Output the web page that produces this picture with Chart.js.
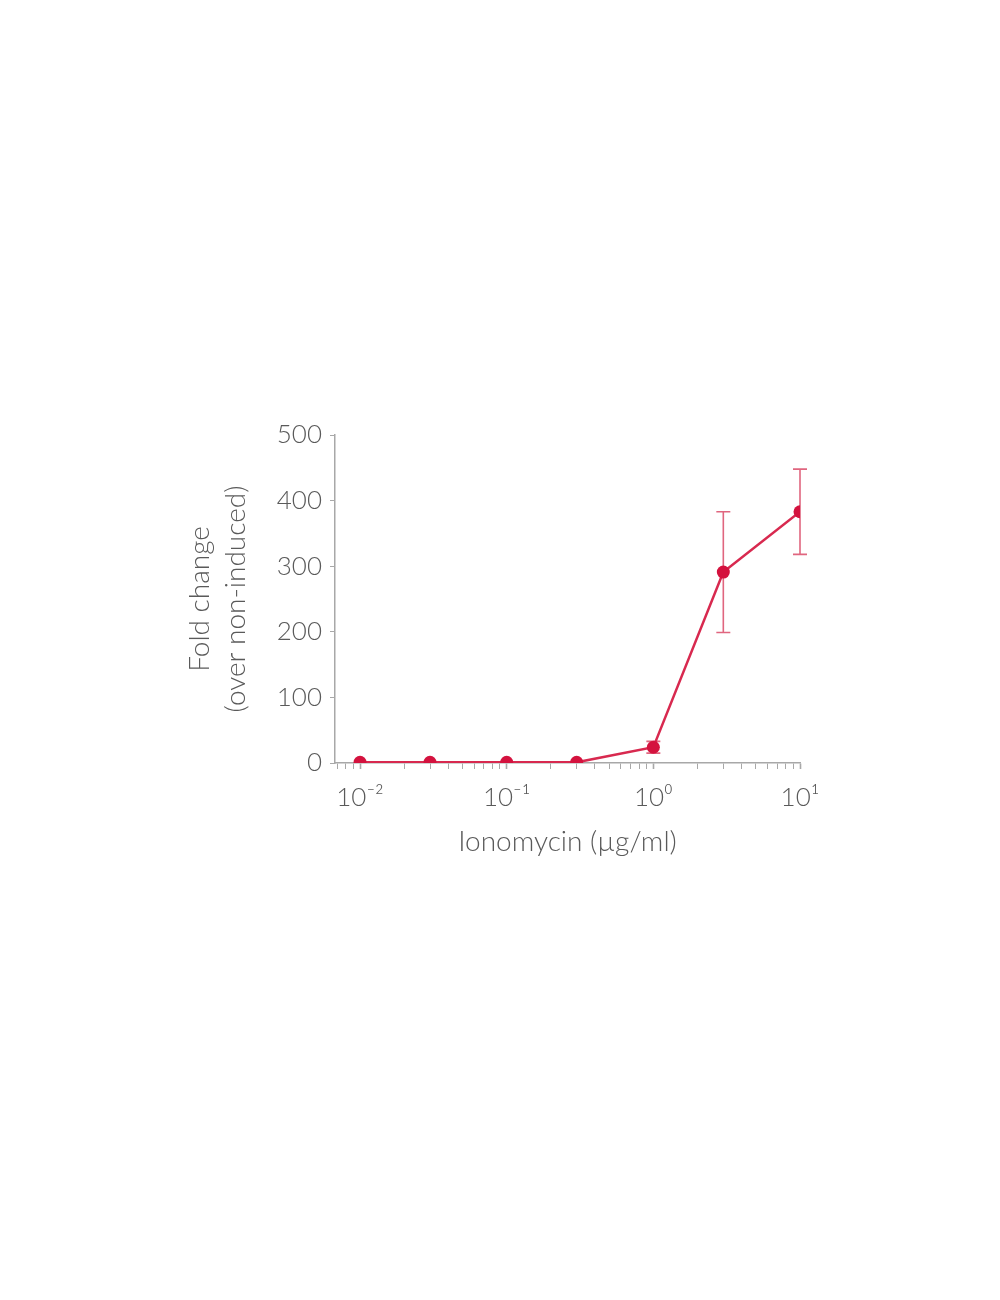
<!DOCTYPE html>
<html>
<head>
<meta charset="utf-8">
<script src="https://cdn.jsdelivr.net/npm/chart.js@4.4.1/dist/chart.umd.min.js"></script>
<style>
  html, body { margin: 0; padding: 0; background: #fff; }
  #wrap { position: relative; width: 1000px; height: 1300px; }
</style>
</head>
<body>
<div id="wrap"><canvas id="doseChart"></canvas></div>
<script>
// ionomycin dose (ug/ml) vs fold change
const doses = [0.01, 0.03, 0.1, 0.3, 1, 3, 10];
const foldChange = [1, 1, 1, 1, 24, 291, 383];
const foldSd = [0, 0, 0, 0, 9, 92, 65];

const decadeTicks = [0.01, 0.1, 1, 10];
const decadeLabels = ["10\u207B\u00B2", "10\u207B\u00B9", "10\u2070", "10\u00B9"];
const yTicks = [0, 100, 200, 300, 400, 500];

const xMin = 0.00675;
const xMax = 10;

const gray = "#5a5a5a";
const axisGray = "#a8a8a8";
const red = "#d4123e";

// minor ticks 2..9 of each decade, plus the decades themselves
const xTickValues = [];
[0.001, 0.01, 0.1, 1].forEach(d => {
    for (let k = 1; k <= 9; k++) {
        const v = +(d * k).toPrecision(3);
        if (v >= xMin && v <= xMax) xTickValues.push(v);
    }
});
xTickValues.push(10);

const errorBars = {
    id: "errorBars",
    beforeDatasetsDraw(chart) {
        const ctx = chart.ctx;
        const xs = chart.scales.x, ys = chart.scales.y;
        ctx.save();
        ctx.strokeStyle = "#e0667f";
        ctx.lineWidth = 1.6;
        doses.forEach((d, i) => {
            if (!foldSd[i]) return;
            const px = xs.getPixelForValue(d);
            const top = ys.getPixelForValue(foldChange[i] + foldSd[i]);
            const bot = ys.getPixelForValue(foldChange[i] - foldSd[i]);
            ctx.beginPath();
            ctx.moveTo(px, top); ctx.lineTo(px, bot);
            ctx.moveTo(px - 7, top); ctx.lineTo(px + 7, top);
            ctx.moveTo(px - 7, bot); ctx.lineTo(px + 7, bot);
            ctx.stroke();
        });
        ctx.restore();
    }
};

const tickFont = { family: "Lato", weight: "300", size: 26 };
const titleFont = { family: "Lato", weight: "300", size: 28, lineHeight: 1.32 };

new Chart(document.getElementById("doseChart"), {
    type: "line",
    data: {
        datasets: [{
            data: doses.map((d, i) => ({ x: d, y: foldChange[i] })),
            borderColor: "#d8294f",
            borderWidth: 2.5,
            backgroundColor: red,
            pointBackgroundColor: red,
            pointBorderColor: red,
            pointRadius: 6.5,
            pointBorderWidth: 0,
            tension: 0
        }]
    },
    options: {
        responsive: true,
        maintainAspectRatio: false,
        animation: false,
        layout: { padding: { left: 181, top: 435, right: 200, bottom: 1300 - 763 - 97 } },
        plugins: { legend: { display: false }, tooltip: { enabled: false } },
        scales: {
            x: {
                type: "logarithmic",
                min: xMin,
                max: xMax,
                offset: false,
                afterBuildTicks: scale => {
                    scale.ticks = xTickValues.map(v => ({ value: v, major: decadeTicks.includes(v) }));
                },
                afterFit: scale => { scale.height = 97; },
                ticks: {
                    autoSkip: false,
                    maxRotation: 0,
                    color: gray,
                    font: tickFont,
                    padding: 13,
                    callback: v => {
                        const i = decadeTicks.indexOf(+v);
                        return i >= 0 ? decadeLabels[i] : "";
                    }
                },
                grid: {
                    drawOnChartArea: false,
                    drawTicks: true,
                    tickLength: 6,
                    tickColor: axisGray,
                    tickWidth: ctx => (ctx.tick && ctx.tick.major ? 1.6 : 1)
                },
                border: { display: true, color: axisGray, width: 1.5 },
                title: {
                    display: true,
                    text: "Ionomycin (\u00B5g/ml)",
                    color: gray,
                    font: titleFont,
                    padding: 0
                }
            },
            y: {
                type: "linear",
                min: 0,
                max: 500,
                afterBuildTicks: scale => {
                    scale.ticks = yTicks.map(v => ({ value: v }));
                },
                afterFit: scale => { scale.width = 335 - 181; },
                ticks: { color: gray, font: tickFont, padding: 8 },
                grid: {
                    drawOnChartArea: false,
                    drawTicks: true,
                    tickLength: 5,
                    tickColor: axisGray
                },
                border: { display: true, color: axisGray, width: 1.5 },
                title: {
                    display: true,
                    text: ["Fold change", "(over non-induced)"],
                    color: gray,
                    font: titleFont,
                    padding: 0
                }
            }
        }
    },
    plugins: [errorBars]
});
</script>
</body>
</html>
